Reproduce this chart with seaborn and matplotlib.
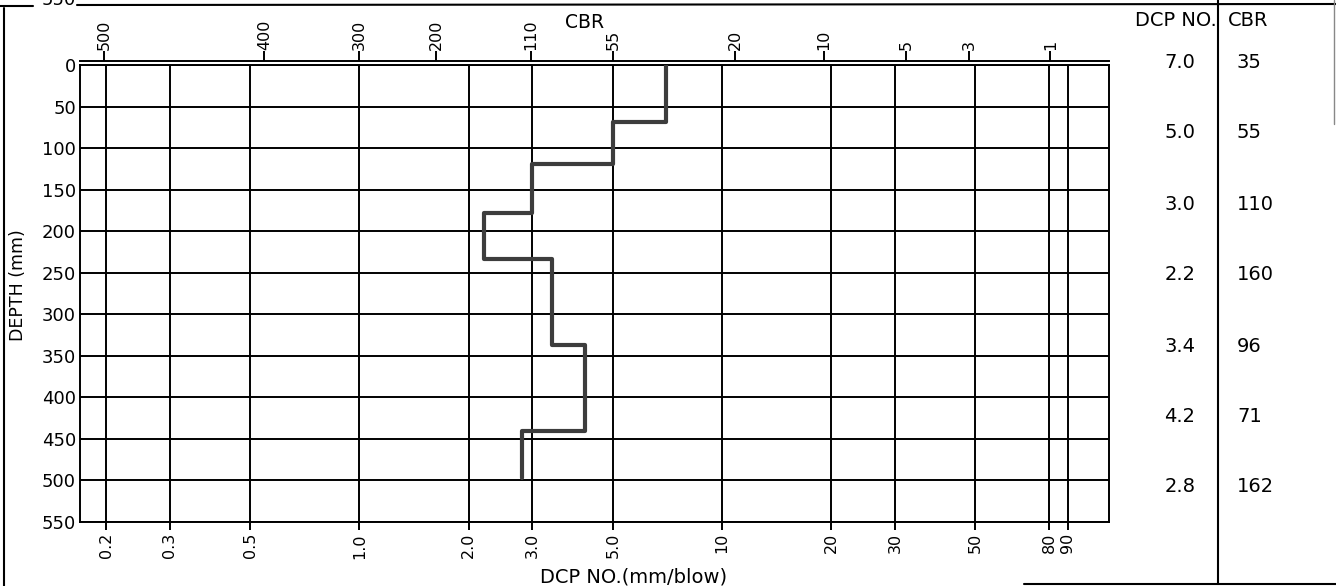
import matplotlib
matplotlib.use("Agg")
import matplotlib.pyplot as plt
from matplotlib.lines import Line2D
from matplotlib.ticker import NullLocator
import pandas as pd
import seaborn as sns

# DCP test results for each layer
dcp_values = [7.0, 5.0, 3.0, 2.2, 3.4, 4.2, 2.8]
cbr_values = [35, 55, 110, 160, 96, 71, 162]
layer_depths = [0, 69, 119, 178, 233, 337, 441, 497]

# bottom axis: DCP grid values and their labels
dcp_ticks = [0.2, 0.3, 0.5, 1.0, 2.0, 3.0, 5.0, 10, 20, 30, 50, 80, 90]
dcp_tick_labels = ["0.2", "0.3", "0.5", "1.0", "2.0", "3.0", "5.0",
                   "10", "20", "30", "50", "80", "90"]

# top axis: CBR labels and the DCP value each one sits over
cbr_ticks = [500, 400, 300, 200, 110, 55, 20, 10, 5, 3, 1]
cbr_tick_dcp = [0.198, 0.547, 1.0, 1.63, 2.97, 5.0, 10.9, 19.1, 32.2, 48.1, 80.5]

depth_ticks = list(range(0, 551, 50))

sns.set_theme(style="white")
plt.rcParams["font.family"] = ["DejaVu Sans"]
plt.rcParams["text.color"] = "black"
plt.rcParams["axes.edgecolor"] = "black"
plt.rcParams["xtick.color"] = "black"
plt.rcParams["ytick.color"] = "black"

W, H = 1336, 586


def fx(x):
    return x / W


def fy(y):
    return 1 - y / H


fig = plt.figure(figsize=(W / 100, H / 100), dpi=100)
fig.patch.set_facecolor("white")

ax = fig.add_axes([fx(80), fy(522), fx(1109) - fx(80), fy(65) - fy(522)])
ax.set_xscale("log")
ax.set_xlim(0.1695, 116.9)
ax.set_ylim(550, 0)

# step profile of DCP against depth
rows = []
for i, d in enumerate(dcp_values):
    rows.append((d, layer_depths[i]))
    rows.append((d, layer_depths[i + 1]))
profile = pd.DataFrame(rows, columns=["dcp", "depth"])
sns.lineplot(data=profile, x="dcp", y="depth", sort=False, estimator=None,
             color="#3d3d3d", linewidth=3.0, ax=ax, zorder=5)

ax.set_xticks(dcp_ticks)
ax.set_xticklabels(dcp_tick_labels)
ax.xaxis.set_minor_locator(NullLocator())
ax.set_yticks(depth_ticks)
ax.set_yticklabels([str(v) for v in depth_ticks])
ax.set_xlim(0.1695, 116.9)
ax.set_ylim(550, 0)
ax.set_xlabel("")
ax.set_ylabel("")
ax.grid(True, which="major", color="black", linewidth=1.4)
ax.tick_params(axis="x", direction="out", length=6, width=1.4,
               labelsize=11.5, labelrotation=90, pad=2)
ax.tick_params(axis="y", direction="out", length=3, width=1.4,
               labelsize=13, pad=0)
for s in ax.spines.values():
    s.set_visible(True)
    s.set_color("black")
    s.set_linewidth(1.4)

# CBR scale on top
ax2 = ax.twiny()
ax2.set_xscale("log")
ax2.set_xlim(ax.get_xlim())
ax2.set_xticks(cbr_tick_dcp)
ax2.set_xticklabels([str(v) for v in cbr_ticks])
ax2.xaxis.set_minor_locator(NullLocator())
ax2.grid(False)
for name, s in ax2.spines.items():
    s.set_visible(name == "top")
ax2.spines["top"].set_position(("outward", 3))
ax2.spines["top"].set_linewidth(1.4)
ax2.spines["top"].set_color("black")
ax2.tick_params(axis="x", top=True, bottom=False, labeltop=True,
                labelbottom=False, direction="out", length=7, width=1.4,
                labelsize=11.5, labelrotation=90, pad=1)

fig.text(fx(585), fy(23), "CBR", fontsize=13.5, ha="center", va="center")
fig.text(fx(634), fy(577), "DCP NO.(mm/blow)", fontsize=14,
         ha="center", va="center")
fig.text(fx(18), fy(285), "DEPTH (mm)", fontsize=12.5, rotation=90,
         ha="center", va="center")

# results table
fig.text(fx(1176), fy(21), "DCP NO.", fontsize=14, ha="center", va="center")
fig.text(fx(1228), fy(21), "CBR", fontsize=14, ha="left", va="center")
row_y = [62, 133, 204, 274, 346, 417, 487]
for yy, d, c in zip(row_y, dcp_values, cbr_values):
    fig.text(fx(1180), fy(yy), f"{d:.1f}", fontsize=14, ha="center", va="center")
    fig.text(fx(1237), fy(yy), str(c), fontsize=14, ha="left", va="center")

# sheet frame
fig.text(fx(76), fy(5), "550", fontsize=13, ha="right", va="baseline")


def frame_line(x0, y0, x1, y1, color="black", lw=1.5):
    fig.add_artist(Line2D([fx(x0), fx(x1)], [fy(y0), fy(y1)],
                          transform=fig.transFigure, color=color, linewidth=lw))


frame_line(77, 5, 1336, 4)
frame_line(0, 6, 33, 6)
frame_line(4, 8, 4, 586)
frame_line(1218, 0, 1218, 584)
frame_line(1024, 584, 1336, 584)
frame_line(1334, 0, 1334, 124, color="#888888", lw=1.0)

fig.savefig("out.png", dpi=100)
